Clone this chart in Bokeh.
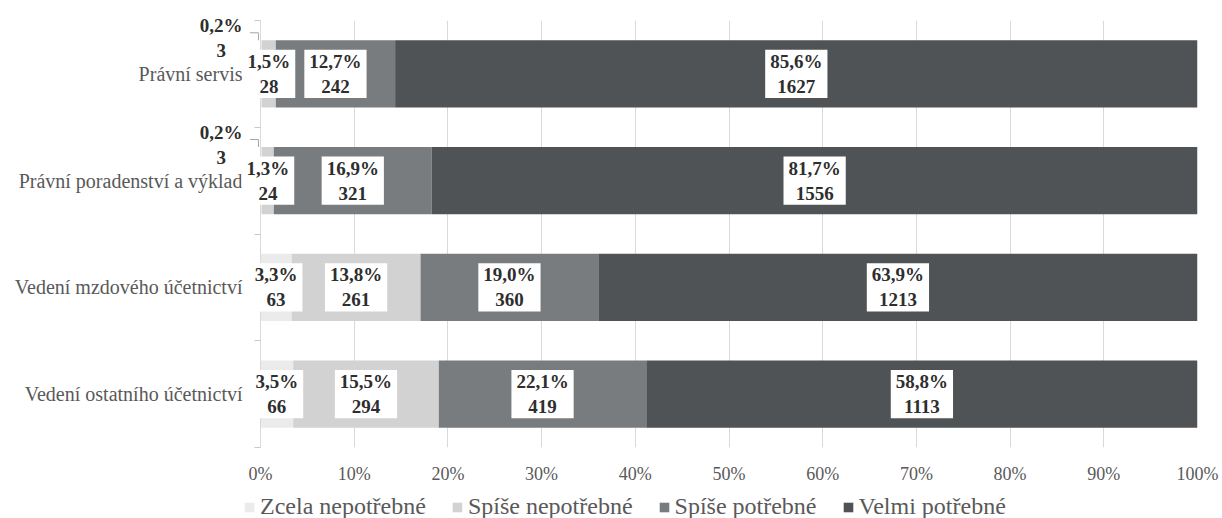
from bokeh.plotting import figure
from bokeh.models import Range1d, FixedTicker, ColumnDataSource, Legend, LegendItem
from bokeh.embed import file_html
from bokeh.resources import INLINE
from bokeh.core.properties import value

categories = ["Právní servis", "Právní poradenství a výklad",
              "Vedení mzdového účetnictví", "Vedení ostatního účetnictví"]
series_names = ["Zcela nepotřebné", "Spíše nepotřebné", "Spíše potřebné", "Velmi potřebné"]

zcela_pct = [0.2, 0.2, 3.3, 3.5]
zcela_n = [3, 3, 63, 66]
spise_ne_pct = [1.5, 1.3, 13.8, 15.5]
spise_ne_n = [28, 24, 261, 294]
spise_po_pct = [12.7, 16.9, 19.0, 22.1]
spise_po_n = [242, 321, 360, 419]
velmi_pct = [85.6, 81.7, 63.9, 58.8]
velmi_n = [1627, 1556, 1213, 1113]

x_ticks = [0, 10, 20, 30, 40, 50, 60, 70, 80, 90, 100]
x_tick_labels = ["0%", "10%", "20%", "30%", "40%", "50%", "60%", "70%", "80%", "90%", "100%"]

colors = ["#ebebeb", "#d2d2d2", "#787c7e", "#4f5355"]
FONT = "Liberation Serif"
BAR_H = 0.63

pcts = [zcela_pct, spise_ne_pct, spise_po_pct, velmi_pct]
counts = [zcela_n, spise_ne_n, spise_po_n, velmi_n]

n_cat = len(categories)
y_pos = [n_cat - 1 - i for i in range(n_cat)]
totals = [sum(c[i] for c in counts) for i in range(n_cat)]

p = figure(width=1222, height=488, x_range=Range1d(0, 100), y_range=Range1d(-0.5, n_cat - 0.5),
           output_backend="svg", toolbar_location=None,
           min_border_left=260, min_border_right=25, min_border_top=20, min_border_bottom=41)
p.outline_line_color = None
p.background_fill_color = "white"
p.border_fill_color = "white"

left = [0.0] * n_cat
in_x, in_y, in_t = [], [], []
out_x, out_y, out_t = [], [], []
lead_xs, lead_ys = [], []
for j, name in enumerate(series_names):
    share = [counts[j][i] / totals[i] * 100 for i in range(n_cat)]
    right = [left[i] + share[i] for i in range(n_cat)]
    src = ColumnDataSource(dict(y=y_pos, left=list(left), right=right))
    p.hbar(y="y", left="left", right="right", height=BAR_H, source=src,
           fill_color=colors[j], line_color=None)
    for i in range(n_cat):
        txt = f"{pcts[j][i]:.1f}".replace(".", ",") + "%\n" + str(counts[j][i])
        cx = (left[i] + right[i]) / 2
        if pcts[j][i] < 1:
            top = y_pos[i] + BAR_H / 2
            out_x.append(cx)
            out_y.append(top + 0.02)
            out_t.append(txt)
            lead_xs.append([cx - 1.2, cx - 0.3, cx - 0.3])
            lead_ys.append([top + 0.07, top + 0.07, top])
        else:
            in_x.append(cx)
            in_y.append(y_pos[i])
            in_t.append(txt)
    left = right

in_src = ColumnDataSource(dict(x=in_x, y=in_y, text=in_t))
p.text(x="x", y="y", text="text", source=in_src, text_font=value(FONT), text_font_style="bold",
       text_font_size="19px", text_align="center", text_baseline="middle", text_color="#2e2e2e",
       background_fill_color="white", padding=(5, 1), level="annotation")

out_src = ColumnDataSource(dict(x=out_x, y=out_y, text=out_t))
p.text(x="x", y="y", text="text", source=out_src, text_font=value(FONT), text_font_style="bold",
       text_font_size="19px", text_align="center", text_baseline="middle", text_color="#2e2e2e",
       x_offset=-40, level="annotation")
p.multi_line(xs=lead_xs, ys=lead_ys, line_color="#a6a6a6", line_width=1, level="annotation")

# axes
p.yaxis.ticker = FixedTicker(ticks=y_pos, minor_ticks=[k - 0.5 for k in range(n_cat + 1)])
p.yaxis.major_label_overrides = {y_pos[i]: categories[i] for i in range(n_cat)}
p.yaxis.major_tick_out = 0
p.yaxis.major_tick_in = 0
p.yaxis.minor_tick_out = 6
p.yaxis.minor_tick_in = 0
p.yaxis.minor_tick_line_color = "#c8c8c8"
p.yaxis.axis_line_color = "#d9d9d9"
p.yaxis.major_label_standoff = 12
p.yaxis.major_label_text_font = FONT
p.yaxis.major_label_text_font_size = "20px"
p.yaxis.major_label_text_color = "#595959"

p.xaxis.ticker = FixedTicker(ticks=x_ticks)
p.xaxis.major_label_overrides = {x_ticks[k]: x_tick_labels[k] for k in range(len(x_ticks))}
p.xaxis.axis_line_color = None
p.xaxis.major_tick_line_color = None
p.xaxis.major_tick_out = 0
p.xaxis.major_tick_in = 0
p.xaxis.minor_tick_line_color = None
p.xaxis.major_label_standoff = 16
p.xaxis.major_label_text_font = FONT
p.xaxis.major_label_text_font_size = "18px"
p.xaxis.major_label_text_color = "#595959"

p.xgrid.ticker = FixedTicker(ticks=x_ticks)
p.xgrid.grid_line_color = "#d9d9d9"
p.ygrid.grid_line_color = None

# legend strip (separate root, frame spans its whole width)
lg = figure(width=1222, height=30, x_range=Range1d(0, 1), y_range=Range1d(0, 1),
            output_backend="svg", toolbar_location=None, min_border=0)
lg.axis.visible = False
lg.grid.visible = False
lg.outline_line_color = None
items = []
for j, name in enumerate(series_names):
    r = lg.hbar(y=[-5], left=[0], right=[1], height=0.5, fill_color=colors[j], line_color=None)
    items.append(LegendItem(label=name, renderers=[r]))
legend = Legend(items=items, orientation="horizontal", location=(243, -2), margin=0, padding=0,
                glyph_width=12, glyph_height=12, label_standoff=5, spacing=25,
                label_text_font=FONT, label_text_font_size="24px", label_text_color="#595959",
                border_line_color=None, background_fill_alpha=0)
lg.add_layout(legend, "center")

open("out.html", "w").write(file_html([p, lg], INLINE))
